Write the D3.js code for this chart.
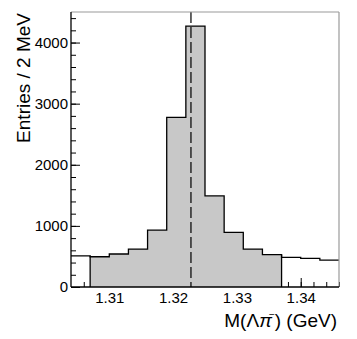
<!DOCTYPE html>
<html>
<head>
<meta charset="utf-8">
<script src="https://cdn.jsdelivr.net/npm/d3@7"></script>
<style>
  body { margin: 0; background: #fff; }
  svg { font-family: "Liberation Sans", Arial, Helvetica, sans-serif; }
  .axis path.domain { display: none; }
  .axis line { stroke: #000; stroke-width: 1; }
  .axis text { font-size: 15px; fill: #000; }
</style>
</head>
<body>
<div id="chart"></div>
<script>
// histogram bins (GeV) and entries
var binEdges = [1.304, 1.307, 1.310, 1.313, 1.316, 1.319, 1.322, 1.325,
                1.328, 1.331, 1.334, 1.337, 1.340, 1.343, 1.346];
var counts = [510, 495, 540, 620, 930, 2775, 4270, 1490, 895, 620, 530, 485, 470, 440];
var signalRange = [1.307, 1.337];
var xiMass = 1.3228;

var xMajor = [1.31, 1.32, 1.33, 1.34];
var xMinor = d3.range(0, 21).map(function(i) { return +(1.306 + i * 0.002).toFixed(3); });
var yMajor = [0, 1000, 2000, 3000, 4000];
var yMinor = d3.range(0, 23).map(function(i) { return i * 200; });

// set the dimensions and margins of the graph
var margin = {top: 12, right: 18, bottom: 52, left: 71},
    width = 357 - margin.left - margin.right,
    height = 339 - margin.top - margin.bottom;

var x = d3.scaleLinear().domain([1.304, 1.346]).range([0, width]);
var y = d3.scaleLinear().domain([0, 4500]).range([height, 0]);

var svg = d3.select("#chart").append("svg")
    .attr("width", 357)
    .attr("height", 339)
  .append("g")
    .attr("transform", "translate(" + margin.left + "," + margin.top + ")");

// ticks (drawn inside the frame, ROOT style)
svg.append("g")
    .attr("class", "axis")
    .attr("transform", "translate(0," + height + ")")
    .call(d3.axisBottom(x).tickValues(xMinor).tickSize(-5).tickFormat(""));

svg.append("g")
    .attr("class", "axis")
    .attr("transform", "translate(0," + height + ")")
    .call(d3.axisBottom(x).tickValues(xMajor).tickSize(-9).tickPadding(5)
      .tickFormat(d3.format(".2f")));

svg.append("g")
    .attr("class", "axis")
    .call(d3.axisLeft(y).tickValues(yMinor).tickSize(-5).tickFormat(""));

svg.append("g")
    .attr("class", "axis")
    .call(d3.axisLeft(y).tickValues(yMajor).tickSize(-9).tickPadding(3)
      .tickFormat(d3.format("d")));

// bins as objects
var bins = counts.map(function(c, i) {
  return {x0: binEdges[i], x1: binEdges[i + 1], n: c};
});

// shaded signal region as one path (no seams between bins)
var sig = bins.filter(function(d) {
  return d.x0 >= signalRange[0] - 1e-9 && d.x1 <= signalRange[1] + 1e-9;
});
var fillPts = [[x(sig[0].x0), y(0)]];
sig.forEach(function(d) {
  fillPts.push([x(d.x0), y(d.n)]);
  fillPts.push([x(d.x1), y(d.n)]);
});
fillPts.push([x(sig[sig.length - 1].x1), y(0)]);
svg.append("path")
    .attr("d", d3.line()(fillPts) + "Z")
    .style("fill", "#c8c8c8")
    .style("stroke", "none");

// histogram outline
var stepPts = [];
bins.forEach(function(d) {
  stepPts.push([x(d.x0), y(d.n)]);
  stepPts.push([x(d.x1), y(d.n)]);
});
svg.append("path")
    .attr("d", d3.line()(stepPts))
    .style("fill", "none")
    .style("stroke", "#000")
    .style("stroke-width", 1.3);

// edges of the shaded region
signalRange.forEach(function(v) {
  var b = bins.filter(function(d) { return Math.abs(d.x0 - v) < 1e-9 || Math.abs(d.x1 - v) < 1e-9; });
  var top = d3.min(b, function(d) { return y(d.n); });
  svg.append("line")
      .attr("x1", x(v)).attr("x2", x(v))
      .attr("y1", top).attr("y2", height)
      .style("stroke", "#000")
      .style("stroke-width", 1.3);
});

// nominal mass line
svg.append("line")
    .attr("x1", x(xiMass)).attr("x2", x(xiMass))
    .attr("y1", 0).attr("y2", height)
    .style("stroke", "#000")
    .style("stroke-width", 1.2)
    .style("stroke-dasharray", "11,4");

// frame
svg.append("line").attr("x1", 0).attr("x2", width).attr("y1", 0).attr("y2", 0)
    .style("stroke", "#9a9a9a").style("stroke-width", 1.2);
svg.append("line").attr("x1", width).attr("x2", width).attr("y1", 0).attr("y2", height)
    .style("stroke", "#9a9a9a").style("stroke-width", 1.2);
svg.append("line").attr("x1", 0).attr("x2", 0).attr("y1", 0).attr("y2", height)
    .style("stroke", "#000").style("stroke-width", 1.3);
svg.append("line").attr("x1", 0).attr("x2", width).attr("y1", height).attr("y2", height)
    .style("stroke", "#000").style("stroke-width", 1.3);

// axis titles
svg.append("text")
    .attr("transform", "translate(" + (30 - margin.left) + ",1) rotate(-90)")
    .attr("text-anchor", "end")
    .style("font-size", "19px")
    .text("Entries / 2 MeV");

var xt = svg.append("text")
    .attr("x", width - 2)
    .attr("y", height + 40)
    .attr("text-anchor", "end")
    .style("font-size", "19px");
xt.append("tspan").text("M(\u039B");
xt.append("tspan").style("font-style", "italic").text("\u03C0");
xt.append("tspan").attr("dy", -9).attr("dx", -3).style("font-size", "10px").text("\u2212");
xt.append("tspan").attr("dy", 9).text(") (GeV)");
</script>
</body>
</html>
